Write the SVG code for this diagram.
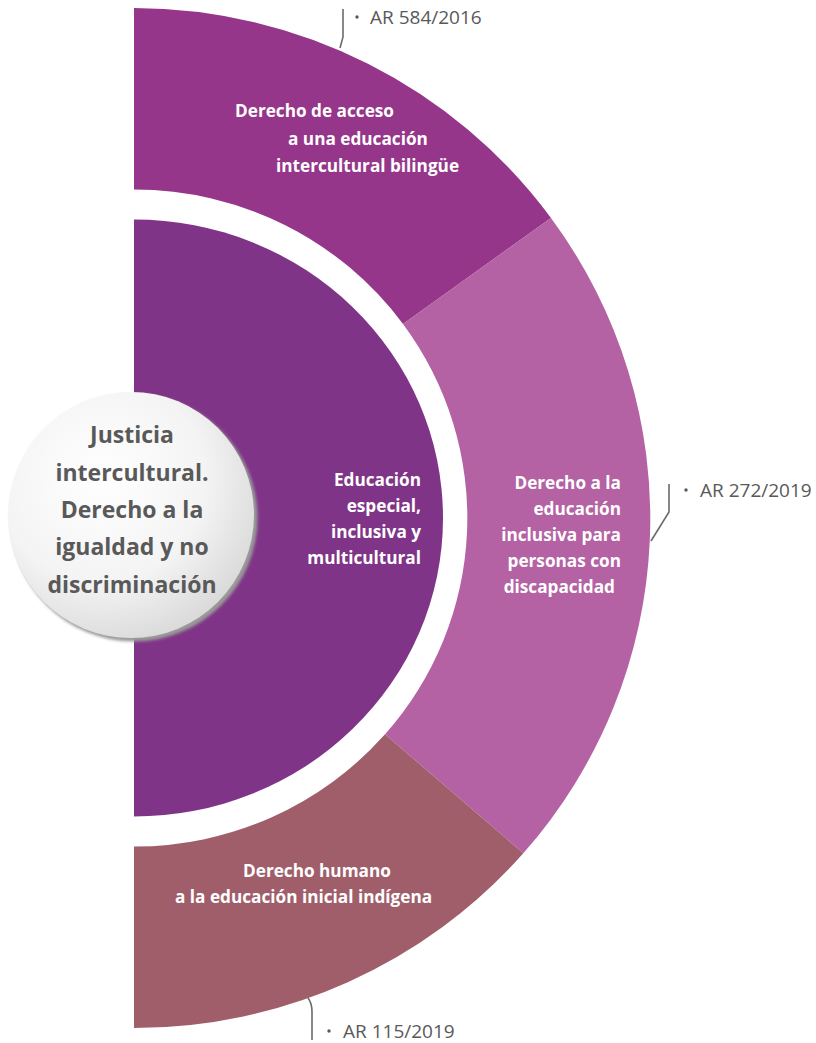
<svg xmlns="http://www.w3.org/2000/svg" width="816" height="1043" viewBox="0 0 816 1043">
<style>
.w{font-family:"Open Sans","Liberation Sans",sans-serif;font-weight:700;font-size:17.2px;fill:#ffffff}
.c{font-family:"Open Sans","Liberation Sans",sans-serif;font-weight:700;font-size:23px;fill:#595959;text-anchor:middle}
.l{font-family:"Open Sans","Liberation Sans",sans-serif;font-size:19px;fill:#595959}
.ld{fill:none;stroke:#6b6b6b;stroke-width:1.6}
</style>
<defs>
<radialGradient id="g" cx="0.38" cy="0.35" r="0.7">
<stop offset="0" stop-color="#ffffff"/>
<stop offset="0.6" stop-color="#f4f4f4"/>
<stop offset="1" stop-color="#d9d9d9"/>
</radialGradient>
<filter id="sh" x="-20%" y="-20%" width="140%" height="140%">
<feGaussianBlur stdDeviation="1.5"/>
</filter>
</defs>
<rect width="816" height="1043" fill="#ffffff"/>
<g id="seg-top">
<path d="M134,8 A517,510 0 0 1 551,218 L403,324 A333,328.5 0 0 0 134,189.5 Z" fill="#95368A"/>
<text class="w" x="235" y="117">Derecho de acceso</text>
<text class="w" x="288" y="145">a una educación</text>
<text class="w" x="276" y="172">intercultural bilingüe</text>
</g>
<g id="seg-right">
<path d="M551,218 A517,510 0 0 1 523.3,853.3 L385,734.3 A333,328.5 0 0 0 403,324 Z" fill="#B462A4"/>
<text class="w" text-anchor="end" x="621" y="489">Derecho a la</text>
<text class="w" text-anchor="end" x="621" y="515">educación</text>
<text class="w" text-anchor="end" x="621" y="541">inclusiva para</text>
<text class="w" text-anchor="end" x="621" y="567">personas con</text>
<text class="w" text-anchor="end" x="615" y="593">discapacidad</text>
</g>
<g id="seg-bottom">
<path d="M523.3,853.3 A517,510 0 0 1 134,1028 L134,846.5 A333,328.5 0 0 0 385,734.3 Z" fill="#A05E6A"/>
<text class="w" x="243" y="877">Derecho humano</text>
<text class="w" x="175" y="903">a la educación inicial indígena</text>
</g>
<g id="inner">
<path d="M134,219.5 A309,298.5 0 0 1 134,816.5 Z" fill="#803488"/>
<text class="w" text-anchor="end" x="421" y="486">Educación</text>
<text class="w" text-anchor="end" x="421" y="512">especial,</text>
<text class="w" text-anchor="end" x="421" y="538">inclusiva y</text>
<text class="w" text-anchor="end" x="421" y="564">multicultural</text>
</g>
<g id="center">
<circle cx="134" cy="518" r="123.5" fill="#9a9a9a" filter="url(#sh)"/>
<circle cx="131" cy="515" r="123" fill="url(#g)"/>
<text class="c" x="132" y="443">Justicia</text>
<text class="c" x="132" y="481">intercultural.</text>
<text class="c" x="132" y="518">Derecho a la</text>
<text class="c" x="132" y="555">igualdad y no</text>
<text class="c" x="132" y="593">discriminación</text>
</g>
<g id="connectors">
<path class="ld" d="M343,9 L343,37 L340,48"/>
<path class="ld" d="M669,484 L669,512 L651,541"/>
<path class="ld" d="M308,998 Q312,1003 312,1012 L312,1040"/>
</g>
<g id="labels">
<circle cx="357" cy="17" r="1.7" fill="#595959"/>
<text class="l" x="370" y="24">AR 584/2016</text>
<circle cx="686" cy="490" r="1.7" fill="#595959"/>
<text class="l" x="700" y="497">AR 272/2019</text>
<circle cx="329" cy="1031" r="1.7" fill="#595959"/>
<text class="l" x="343" y="1038">AR 115/2019</text>
</g>
</svg>
